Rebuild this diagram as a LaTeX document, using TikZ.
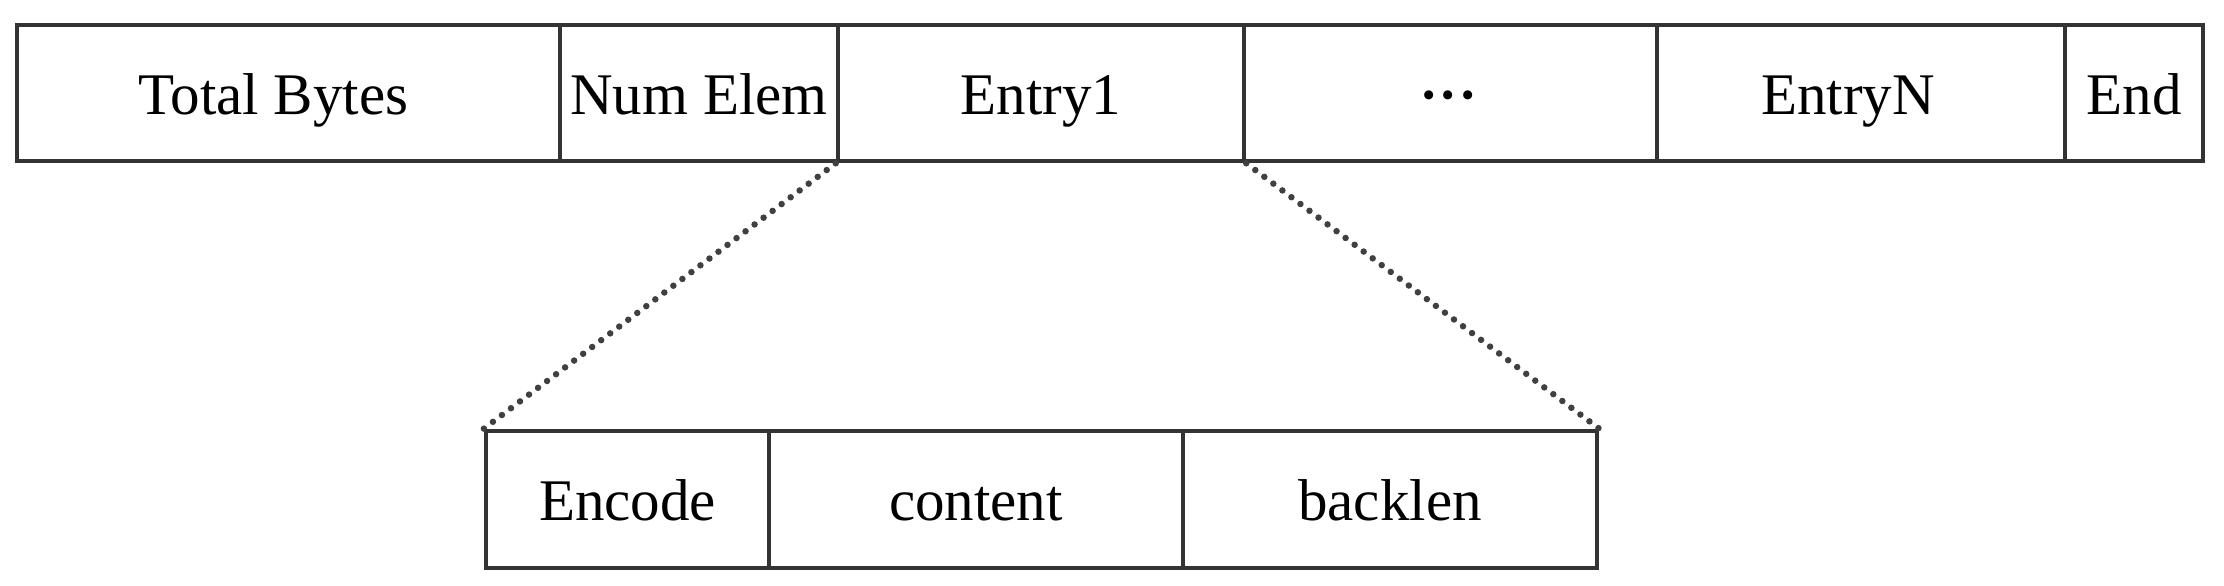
\documentclass[tikz,border=0pt]{standalone}
\usepackage{fontspec}
\setmainfont{Liberation Serif}
\begin{document}
\begin{tikzpicture}[x=1pt,y=-1pt,
  cell/.style={draw=black!80, line width=4.5pt, rectangle, inner sep=0pt,
    text height=42pt, text depth=0pt, font=\fontsize{59}{70}\selectfont,
    anchor=center},
  toprow/.style={cell, minimum height=136pt},
  botrow/.style={cell, minimum height=137pt},
  zoomline/.style={draw=black!75, line width=6.5pt, line cap=round,
    dash pattern=on 0pt off 11.3pt}]
\useasboundingbox (0,0) rectangle (2224,586);
\node[toprow, minimum width=543pt] (tb) at (288.5,93) {\hspace*{-30pt}Total Bytes};
\node[toprow, minimum width=278pt] (ne) at (699,93) {Num Elem};
\node[toprow, minimum width=406pt] (e1) at (1041,93) {Entry1};
\node[toprow, minimum width=413pt] (dots) at (1450.5,93)
  {\hspace*{-4pt}{\fontsize{76}{80}\selectfont\raisebox{-6pt}{·\kern-6pt·\kern-6pt·}}};
\node[toprow, minimum width=408pt] (en) at (1861,93) {\hspace*{-26pt}EntryN};
\node[toprow, minimum width=138pt] (end) at (2134,93) {End};
\node[botrow, minimum width=283pt] (enc) at (627.5,499.5) {Encode};
\node[botrow, minimum width=414pt] (con) at (976,499.5) {content};
\node[botrow, minimum width=414pt] (bl) at (1390,499.5) {backlen};
\draw[zoomline] (e1.south west) -- (enc.north west);
\draw[zoomline] (e1.south east) -- (bl.north east);
\end{tikzpicture}
\end{document}
